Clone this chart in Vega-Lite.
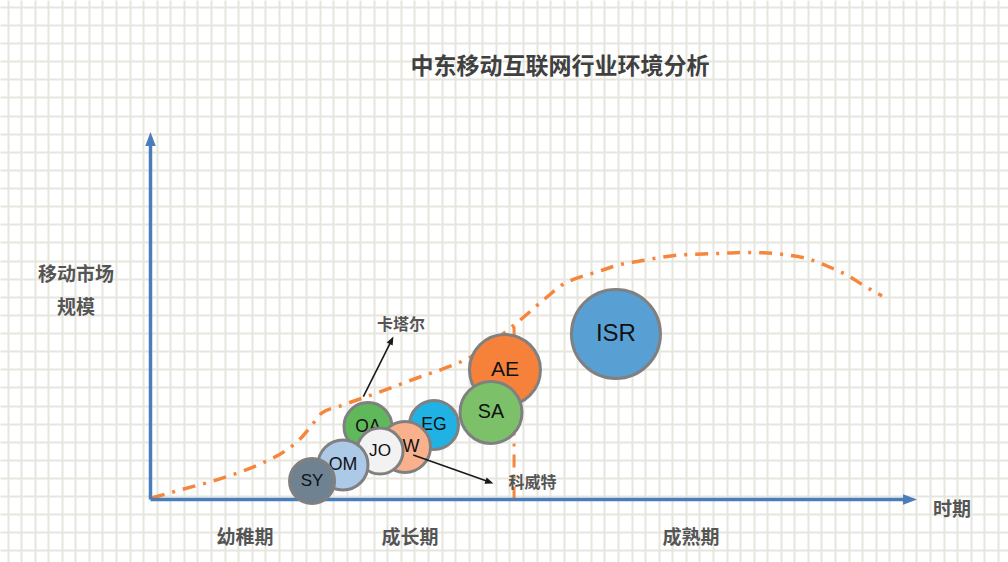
{
  "$schema": "https://vega.github.io/schema/vega-lite/v6.json",
  "width": 1008,
  "height": 562,
  "autosize": {"type": "fit", "contains": "padding"},
  "padding": 0,
  "background": "#ffffff",
  "config": {"view": {"stroke": null}},
  "datasets": {
    "bubbles": [
      {"name": "AE", "x": 36.67, "y": 9.96, "size": 50.4},
      {"name": "SA", "x": 35.64, "y": 7.62, "size": 38.4},
      {"name": "ISR", "x": 44.85, "y": 11.95, "size": 79.2},
      {"name": "EG", "x": 31.44, "y": 6.93, "size": 24},
      {"name": "OA", "x": 26.57, "y": 6.84, "size": 23},
      {"name": "KW", "x": 29.3, "y": 5.71, "size": 26},
      {"name": "JO", "x": 27.46, "y": 5.49, "size": 21.2},
      {"name": "OM", "x": 24.73, "y": 4.72, "size": 25},
      {"name": "SY", "x": 22.45, "y": 3.84, "size": 20.3}
    ],
    "curve": [
      {"x": 10.65, "y": 2.9}, {"x": 12.72, "y": 3.34}, {"x": 15.66, "y": 3.95},
      {"x": 18.61, "y": 4.77}, {"x": 20.46, "y": 5.49}, {"x": 21.56, "y": 6.15},
      {"x": 22.45, "y": 6.93}, {"x": 23.18, "y": 7.59}, {"x": 24.51, "y": 7.97},
      {"x": 27.46, "y": 8.75}, {"x": 30.19, "y": 9.52}, {"x": 32.1, "y": 10.02},
      {"x": 33.87, "y": 10.57}, {"x": 37.34, "y": 12.44}, {"x": 39.77, "y": 13.99},
      {"x": 40.87, "y": 14.65}, {"x": 42.2, "y": 15.09}, {"x": 43.45, "y": 15.37},
      {"x": 45.15, "y": 15.78}, {"x": 46.62, "y": 15.98}, {"x": 48.1, "y": 16.17},
      {"x": 49.57, "y": 16.31}, {"x": 51.27, "y": 16.36}, {"x": 52.74, "y": 16.4},
      {"x": 54.22, "y": 16.45}, {"x": 55.69, "y": 16.43}, {"x": 57.46, "y": 16.31},
      {"x": 58.93, "y": 16.11}, {"x": 60.41, "y": 15.7}, {"x": 61.88, "y": 15.2},
      {"x": 63.06, "y": 14.65}, {"x": 64.46, "y": 14.05}
    ],
    "separator": [{"x": 37.34, "y": 2.81, "x2": 37.34, "y2": 12.44}],
    "axes": [
      {"x": 10.54, "y": 2.81, "x2": 10.54, "y2": 22.71},
      {"x": 10.54, "y": 2.81, "x2": 66.53, "y2": 2.81}
    ],
    "yArrow": [{"x": 10.54, "y": 22.71}],
    "xArrow": [{"x": 66.53, "y": 2.81}],
    "pointers": [
      {"x": 26.23, "y": 8.49, "x2": 28.31, "y2": 11.6},
      {"x": 29.91, "y": 5.27, "x2": 35.53, "y2": 3.78}
    ],
    "head1": [{"x": 28.31, "y": 11.6}],
    "head2": [{"x": 35.53, "y": 3.78}],
    "notes": [
      {"label": "卡塔尔", "x": 29.01, "y": 12.44},
      {"label": "科威特", "x": 38.7, "y": 3.71}
    ],
    "title": [{"label": "中东移动互联网行业环境分析", "x": 40.73, "y": 26.68}],
    "axisText": [
      {"label": "移动市场", "x": 5.05, "y": 15.2},
      {"label": "规模", "x": 5.05, "y": 13.38},
      {"label": "时期", "x": 69.62, "y": 2.24},
      {"label": "幼稚期", "x": 17.51, "y": 0.69},
      {"label": "成长期", "x": 29.67, "y": 0.69},
      {"label": "成熟期", "x": 50.38, "y": 0.69}
    ]
  },
  "encoding": {
    "x": {
      "field": "x", "type": "quantitative",
      "scale": {"domain": [-0.553, 73.75], "nice": false, "zero": false},
      "axis": {
        "values": [0,1,2,3,4,5,6,7,8,9,10,11,12,13,14,15,16,17,18,19,20,21,22,23,24,25,26,27,28,29,30,31,32,33,34,35,36,37,38,39,40,41,42,43,44,45,46,47,48,49,50,51,52,53,54,55,56,57,58,59,60,61,62,63,64,65,66,67,68,69,70,71,72,73],
        "grid": true, "gridColor": "#e6e6df", "gridWidth": 2,
        "domain": false, "ticks": false, "labels": false, "title": null
      }
    },
    "y": {
      "field": "y", "type": "quantitative",
      "scale": {"domain": [-0.635, 30.38], "nice": false, "zero": false},
      "axis": {
        "values": [0,1,2,3,4,5,6,7,8,9,10,11,12,13,14,15,16,17,18,19,20,21,22,23,24,25,26,27,28,29,30],
        "grid": true, "gridColor": "#e6e6df", "gridWidth": 2,
        "domain": false, "ticks": false, "labels": false, "title": null
      }
    }
  },
  "resolve": {"scale": {"size": "independent"}},
  "layer": [
    {
      "data": {"name": "curve"},
      "mark": {"type": "line", "interpolate": "monotone", "color": "#f5863c", "strokeWidth": 3.5, "strokeDash": [13, 8, 3, 8]}
    },
    {
      "data": {"name": "separator"},
      "mark": {"type": "rule", "color": "#f5863c", "strokeWidth": 3, "strokeDash": [13, 8, 3, 8]},
      "encoding": {"x2": {"field": "x2"}, "y2": {"field": "y2"}}
    },
    {
      "data": {"name": "axes"},
      "mark": {"type": "rule", "color": "#4a7dba", "strokeWidth": 3.5},
      "encoding": {"x2": {"field": "x2"}, "y2": {"field": "y2"}}
    },
    {
      "data": {"name": "yArrow"},
      "mark": {"type": "point", "shape": "M0,-1L0.75,1L-0.75,1Z", "filled": true, "opacity": 1, "color": "#4a7dba", "size": 196, "angle": 0}
    },
    {
      "data": {"name": "xArrow"},
      "mark": {"type": "point", "shape": "M0,-1L0.75,1L-0.75,1Z", "filled": true, "opacity": 1, "color": "#4a7dba", "size": 196, "angle": 90}
    },
    {
      "data": {"name": "bubbles"},
      "transform": [{"filter": "indexof(['AE','SA','ISR','EG','OA'], datum.name) >= 0"}],
      "mark": {"type": "point", "shape": "circle", "filled": true, "opacity": 1, "stroke": "#808080", "strokeWidth": 3},
      "encoding": {
        "size": {"field": "size", "type": "quantitative", "scale": {"domain": [0, 100], "range": [0, 10000], "zero": true}, "legend": null},
        "color": {"field": "name", "type": "nominal", "scale": {"domain": ["AE","SA","ISR","EG","OA","KW","JO","OM","SY"], "range": ["#f5813a","#7cc16a","#58a0d4","#21b2e4","#5fb85a","#f9b08c","#f2f2f2","#adc9e8","#6f8291"]}, "legend": null}
      }
    },
    {
      "data": {"name": "bubbles"},
      "transform": [{"filter": "indexof(['AE','SA','ISR','EG','OA'], datum.name) >= 0"}],
      "mark": {"type": "text", "align": "center", "baseline": "middle", "font": "Liberation Sans", "color": "#111111"},
      "encoding": {
        "text": {"field": "name"},
        "size": {"field": "size", "type": "quantitative", "scale": {"type": "sqrt", "domain": [20.3, 79.2], "range": [17, 24], "zero": false}, "legend": null}
      }
    },
    {
      "data": {"name": "bubbles"},
      "transform": [{"filter": "datum.name == 'KW'"}],
      "mark": {"type": "point", "shape": "circle", "filled": true, "opacity": 1, "stroke": "#808080", "strokeWidth": 3},
      "encoding": {
        "size": {"field": "size", "type": "quantitative", "scale": {"domain": [0, 100], "range": [0, 10000], "zero": true}, "legend": null},
        "color": {"field": "name", "type": "nominal", "scale": {"domain": ["AE","SA","ISR","EG","OA","KW","JO","OM","SY"], "range": ["#f5813a","#7cc16a","#58a0d4","#21b2e4","#5fb85a","#f9b08c","#f2f2f2","#adc9e8","#6f8291"]}, "legend": null}
      }
    },
    {
      "data": {"name": "bubbles"},
      "transform": [{"filter": "datum.name == 'KW'"}],
      "mark": {"type": "text", "align": "center", "baseline": "middle", "font": "Liberation Sans", "color": "#111111"},
      "encoding": {
        "text": {"field": "name"},
        "size": {"field": "size", "type": "quantitative", "scale": {"type": "sqrt", "domain": [20.3, 79.2], "range": [17, 24], "zero": false}, "legend": null}
      }
    },
    {
      "data": {"name": "bubbles"},
      "transform": [{"filter": "datum.name == 'JO'"}],
      "mark": {"type": "point", "shape": "circle", "filled": true, "opacity": 1, "stroke": "#808080", "strokeWidth": 3},
      "encoding": {
        "size": {"field": "size", "type": "quantitative", "scale": {"domain": [0, 100], "range": [0, 10000], "zero": true}, "legend": null},
        "color": {"field": "name", "type": "nominal", "scale": {"domain": ["AE","SA","ISR","EG","OA","KW","JO","OM","SY"], "range": ["#f5813a","#7cc16a","#58a0d4","#21b2e4","#5fb85a","#f9b08c","#f2f2f2","#adc9e8","#6f8291"]}, "legend": null}
      }
    },
    {
      "data": {"name": "bubbles"},
      "transform": [{"filter": "datum.name == 'JO'"}],
      "mark": {"type": "text", "align": "center", "baseline": "middle", "font": "Liberation Sans", "color": "#111111"},
      "encoding": {
        "text": {"field": "name"},
        "size": {"field": "size", "type": "quantitative", "scale": {"type": "sqrt", "domain": [20.3, 79.2], "range": [17, 24], "zero": false}, "legend": null}
      }
    },
    {
      "data": {"name": "bubbles"},
      "transform": [{"filter": "datum.name == 'OM'"}],
      "mark": {"type": "point", "shape": "circle", "filled": true, "opacity": 1, "stroke": "#808080", "strokeWidth": 3},
      "encoding": {
        "size": {"field": "size", "type": "quantitative", "scale": {"domain": [0, 100], "range": [0, 10000], "zero": true}, "legend": null},
        "color": {"field": "name", "type": "nominal", "scale": {"domain": ["AE","SA","ISR","EG","OA","KW","JO","OM","SY"], "range": ["#f5813a","#7cc16a","#58a0d4","#21b2e4","#5fb85a","#f9b08c","#f2f2f2","#adc9e8","#6f8291"]}, "legend": null}
      }
    },
    {
      "data": {"name": "bubbles"},
      "transform": [{"filter": "datum.name == 'OM'"}],
      "mark": {"type": "text", "align": "center", "baseline": "middle", "font": "Liberation Sans", "color": "#111111"},
      "encoding": {
        "text": {"field": "name"},
        "size": {"field": "size", "type": "quantitative", "scale": {"type": "sqrt", "domain": [20.3, 79.2], "range": [17, 24], "zero": false}, "legend": null}
      }
    },
    {
      "data": {"name": "bubbles"},
      "transform": [{"filter": "datum.name == 'SY'"}],
      "mark": {"type": "point", "shape": "circle", "filled": true, "opacity": 1, "stroke": "#808080", "strokeWidth": 3},
      "encoding": {
        "size": {"field": "size", "type": "quantitative", "scale": {"domain": [0, 100], "range": [0, 10000], "zero": true}, "legend": null},
        "color": {"field": "name", "type": "nominal", "scale": {"domain": ["AE","SA","ISR","EG","OA","KW","JO","OM","SY"], "range": ["#f5813a","#7cc16a","#58a0d4","#21b2e4","#5fb85a","#f9b08c","#f2f2f2","#adc9e8","#6f8291"]}, "legend": null}
      }
    },
    {
      "data": {"name": "bubbles"},
      "transform": [{"filter": "datum.name == 'SY'"}],
      "mark": {"type": "text", "align": "center", "baseline": "middle", "font": "Liberation Sans", "color": "#111111"},
      "encoding": {
        "text": {"field": "name"},
        "size": {"field": "size", "type": "quantitative", "scale": {"type": "sqrt", "domain": [20.3, 79.2], "range": [17, 24], "zero": false}, "legend": null}
      }
    },
    {
      "data": {"name": "pointers"},
      "mark": {"type": "rule", "color": "#1a1a1a", "strokeWidth": 1.6},
      "encoding": {"x2": {"field": "x2"}, "y2": {"field": "y2"}}
    },
    {
      "data": {"name": "head1"},
      "mark": {"type": "point", "shape": "M0,-1L0.8,1L-0.8,1Z", "filled": true, "opacity": 1, "color": "#1a1a1a", "size": 70, "angle": 26.6}
    },
    {
      "data": {"name": "head2"},
      "mark": {"type": "point", "shape": "M0,-1L0.8,1L-0.8,1Z", "filled": true, "opacity": 1, "color": "#1a1a1a", "size": 70, "angle": 109.5}
    },
    {
      "data": {"name": "notes"},
      "mark": {"type": "text", "align": "center", "baseline": "middle", "font": "Noto Sans CJK SC", "fontSize": 16, "fontWeight": "bold", "color": "#555555"},
      "encoding": {"text": {"field": "label"}}
    },
    {
      "data": {"name": "title"},
      "mark": {"type": "text", "align": "center", "baseline": "middle", "font": "Noto Sans CJK SC", "fontSize": 23, "fontWeight": "bold", "color": "#404040"},
      "encoding": {"text": {"field": "label"}}
    },
    {
      "data": {"name": "axisText"},
      "mark": {"type": "text", "align": "center", "baseline": "middle", "font": "Noto Sans CJK SC", "fontSize": 19, "fontWeight": "bold", "color": "#555555"},
      "encoding": {"text": {"field": "label"}}
    }
  ]
}
